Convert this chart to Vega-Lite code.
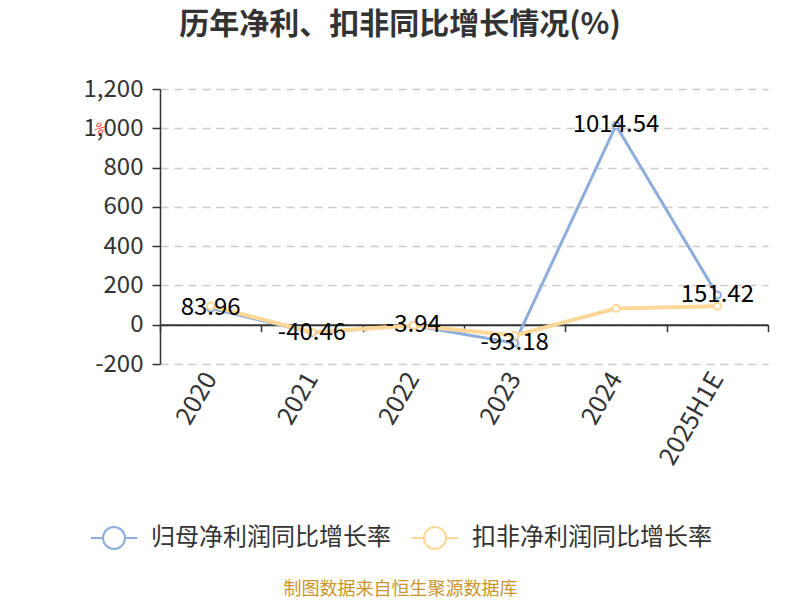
{
  "$schema": "https://vega.github.io/schema/vega-lite/v6.json",
  "description": "历年净利、扣非同比增长情况",
  "width": 608,
  "height": 275,
  "autosize": "none",
  "padding": {"left": 160, "top": 89, "right": 32, "bottom": 236},
  "background": "white",
  "config": {
    "font": "Noto Sans CJK SC",
    "view": {"stroke": null},
    "locale": {
      "number": {"decimal": ".", "thousands": ",", "grouping": [3], "currency": ["", ""], "minus": "-"}
    }
  },
  "title": {
    "text": "历年净利、扣非同比增长情况(%)",
    "fontSize": 30,
    "fontWeight": "bold",
    "color": "#333333",
    "anchor": "middle",
    "dx": -64,
    "offset": 37
  },
  "data": {
    "values": [
      {"year": "2020", "series": "归母净利润同比增长率", "value": 83.96},
      {"year": "2021", "series": "归母净利润同比增长率", "value": -40.46},
      {"year": "2022", "series": "归母净利润同比增长率", "value": -3.94},
      {"year": "2023", "series": "归母净利润同比增长率", "value": -93.18},
      {"year": "2024", "series": "归母净利润同比增长率", "value": 1014.54},
      {"year": "2025H1E", "series": "归母净利润同比增长率", "value": 151.42},
      {"year": "2020", "series": "扣非净利润同比增长率", "value": 95},
      {"year": "2021", "series": "扣非净利润同比增长率", "value": -38},
      {"year": "2022", "series": "扣非净利润同比增长率", "value": -4},
      {"year": "2023", "series": "扣非净利润同比增长率", "value": -55},
      {"year": "2024", "series": "扣非净利润同比增长率", "value": 83},
      {"year": "2025H1E", "series": "扣非净利润同比增长率", "value": 94}
    ]
  },
  "encoding": {
    "x": {"field": "year", "type": "nominal", "sort": null},
    "y": {
      "field": "value",
      "type": "quantitative",
      "scale": {"domain": [-200, 1200], "nice": false, "zero": false},
      "axis": {
        "values": [-200, 0, 200, 400, 600, 800, 1000, 1200],
        "format": ",.0f",
        "labelFontSize": 24,
        "labelColor": "#333333",
        "labelPadding": 9,
        "tickSize": 8,
        "tickColor": "#333333",
        "tickWidth": 1.5,
        "domainColor": "#333333",
        "domainWidth": 1.5,
        "gridColor": "#cccccc",
        "gridWidth": 1.5,
        "gridDash": [8, 6],
        "title": "%",
        "titleColor": "#ff0000",
        "titleFontSize": 12,
        "titleFontWeight": "normal",
        "titleAngle": 45,
        "titleX": -66,
        "titleY": 44
      }
    }
  },
  "layer": [
    {
      "mark": {"type": "line"},
      "encoding": {
        "x": {
          "field": "year",
          "type": "nominal",
          "sort": null,
          "axis": {
            "orient": "bottom",
            "labelAngle": -60,
            "labelFontSize": 25,
            "labelColor": "#333333",
            "labelPadding": 10,
            "domain": false,
            "ticks": false,
            "grid": false,
            "title": "制图数据来自恒生聚源数据库",
            "titleColor": "#c8962d",
            "titleFontSize": 18,
            "titleFontWeight": "normal",
            "titleX": 240,
            "titleY": 225,
            "titleBaseline": "middle"
          }
        },
        "stroke": {
          "field": "series",
          "type": "nominal",
          "sort": ["归母净利润同比增长率", "扣非净利润同比增长率"],
          "scale": {"range": ["#8eaddc", "#fdd797"]},
          "legend": {
            "title": null,
            "orient": "none",
            "direction": "horizontal",
            "legendX": -58,
            "legendY": 437,
            "padding": 0,
            "symbolType": "M-2.1,0L-1,0M1,0L2.1,0M1,0A1,1 0 1,1 -1,0A1,1 0 1,1 1,0",
            "symbolSize": 484,
            "symbolStrokeWidth": 2,
            "symbolFillColor": "white",
            "labelFontSize": 24,
            "labelColor": "#333333",
            "labelOffset": 25,
            "columnPadding": 16,
            "labelLimit": 400
          }
        },
        "strokeWidth": {
          "field": "series",
          "type": "nominal",
          "sort": ["归母净利润同比增长率", "扣非净利润同比增长率"],
          "scale": {"range": [3, 4]},
          "legend": null
        }
      }
    },
    {
      "mark": {"type": "point", "filled": true, "fill": "white", "size": 50, "strokeWidth": 2, "opacity": 1},
      "encoding": {
        "x": {
          "field": "year",
          "type": "nominal",
          "sort": null,
          "axis": {
            "orient": "bottom",
            "offset": -39.3,
            "labels": false,
            "title": null,
            "grid": false,
            "domain": true,
            "domainColor": "#333333",
            "domainWidth": 2,
            "ticks": true,
            "tickBand": "extent",
            "tickSize": 7,
            "tickColor": "#333333",
            "tickWidth": 1.5
          }
        },
        "stroke": {
          "field": "series",
          "type": "nominal",
          "sort": ["归母净利润同比增长率", "扣非净利润同比增长率"]
        }
      }
    },
    {
      "transform": [{"filter": "datum.series === '归母净利润同比增长率'"}],
      "mark": {"type": "text", "fontSize": 24, "color": "#000000", "baseline": "middle", "align": "center"},
      "encoding": {
        "x": {"field": "year", "type": "nominal", "sort": null, "axis": null},
        "text": {"field": "value", "type": "quantitative", "format": ".2f"}
      }
    }
  ],
  "resolve": {"axis": {"x": "independent"}}
}
